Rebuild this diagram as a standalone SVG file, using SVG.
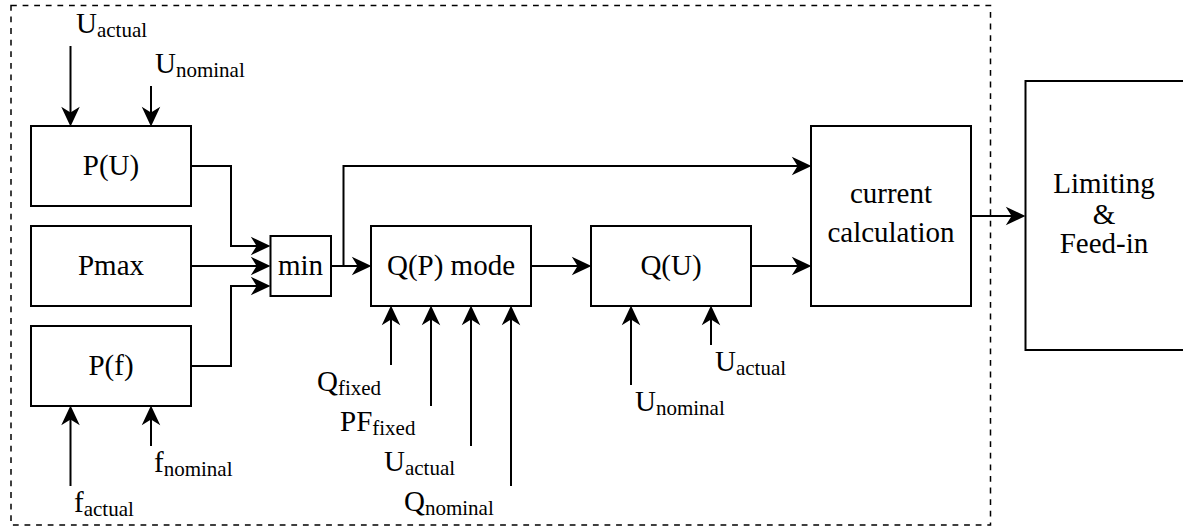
<svg xmlns="http://www.w3.org/2000/svg" width="1183" height="529" viewBox="0 0 1183 529" font-family="Liberation Serif, DejaVu Serif, serif">
<style>
.box{fill:#fff;stroke:#000;stroke-width:2}
.ln{fill:none;stroke:#000;stroke-width:2}
text{font-family:"Liberation Serif", "DejaVu Serif", serif;font-size:29px;fill:#000}
.m{text-anchor:middle}
.s{font-size:21px}
</style>
<defs>
<marker id="ah" markerUnits="userSpaceOnUse" markerWidth="22" markerHeight="22" viewBox="-15 -9 19 18" refX="0" refY="0" orient="auto">
<path d="M3,0 L-14,-8 L-9,0 L-14,8 Z" fill="#000"/>
</marker>
</defs>
<rect x="11" y="5.5" width="979.5" height="519.5" fill="none" stroke="#000" stroke-width="1.5" stroke-dasharray="5.8 5.8"/>
<g id="connectors">
<path class="ln" d="M70.5,46 V123" marker-end="url(#ah)"/>
<path class="ln" d="M151,86 V123" marker-end="url(#ah)"/>
<path class="ln" d="M191,166 H231 V246 H267" marker-end="url(#ah)"/>
<path class="ln" d="M191,266 H267" marker-end="url(#ah)"/>
<path class="ln" d="M191,366 H231 V286 H267" marker-end="url(#ah)"/>
<path class="ln" d="M331,266 H368" marker-end="url(#ah)"/>
<path class="ln" d="M343.5,266 V166 H808" marker-end="url(#ah)"/>
<path class="ln" d="M531,266 H588" marker-end="url(#ah)"/>
<path class="ln" d="M751,266 H808" marker-end="url(#ah)"/>
<path class="ln" d="M971,216 H1022" marker-end="url(#ah)"/>
<path class="ln" d="M70.5,486 V409" marker-end="url(#ah)"/>
<path class="ln" d="M151,446 V409" marker-end="url(#ah)"/>
<path class="ln" d="M391,365 V309" marker-end="url(#ah)"/>
<path class="ln" d="M431,406 V309" marker-end="url(#ah)"/>
<path class="ln" d="M471,446 V309" marker-end="url(#ah)"/>
<path class="ln" d="M511,486 V309" marker-end="url(#ah)"/>
<path class="ln" d="M631,385 V309" marker-end="url(#ah)"/>
<path class="ln" d="M711,345 V309" marker-end="url(#ah)"/>
</g>
<g id="PU"><rect class="box" x="31" y="126" width="160" height="80"/><text class="m" x="111" y="175">P(U)</text></g>
<g id="Pmax"><rect class="box" x="31" y="226" width="160" height="80"/><text class="m" x="111" y="275">Pmax</text></g>
<g id="Pf"><rect class="box" x="31" y="326" width="160" height="80"/><text class="m" x="111" y="375">P(f)</text></g>
<g id="min"><rect class="box" x="270.5" y="236" width="60.5" height="60"/><text class="m" x="300.5" y="275">min</text></g>
<g id="QP"><rect class="box" x="371" y="226" width="160" height="80"/><text class="m" x="451" y="275">Q(P) mode</text></g>
<g id="QU"><rect class="box" x="591" y="226" width="160" height="80"/><text class="m" x="671" y="275">Q(U)</text></g>
<g id="current"><rect class="box" x="811" y="126" width="160" height="180"/><text class="m" x="891" y="203">current</text><text class="m" x="891" y="242">calculation</text></g>
<g id="limiting"><rect class="box" x="1025.5" y="81" width="170" height="269"/><text class="m" x="1104" y="193">Limiting</text><text class="m" x="1104" y="224">&amp;</text><text class="m" x="1104" y="253">Feed-in</text></g>
<g id="labels">
<text x="76" y="33">U<tspan class="s" dy="4">actual</tspan></text>
<text x="155" y="73">U<tspan class="s" dy="4">nominal</tspan></text>
<text x="74" y="512">f<tspan class="s" dy="4">actual</tspan></text>
<text x="154" y="472">f<tspan class="s" dy="4">nominal</tspan></text>
<text x="317" y="391">Q<tspan class="s" dy="4">fixed</tspan></text>
<text x="340" y="431">PF<tspan class="s" dy="4">fixed</tspan></text>
<text x="384" y="471">U<tspan class="s" dy="4">actual</tspan></text>
<text x="404" y="511">Q<tspan class="s" dy="4">nominal</tspan></text>
<text x="635" y="411">U<tspan class="s" dy="4">nominal</tspan></text>
<text x="715" y="371">U<tspan class="s" dy="4">actual</tspan></text>
</g>
</svg>
